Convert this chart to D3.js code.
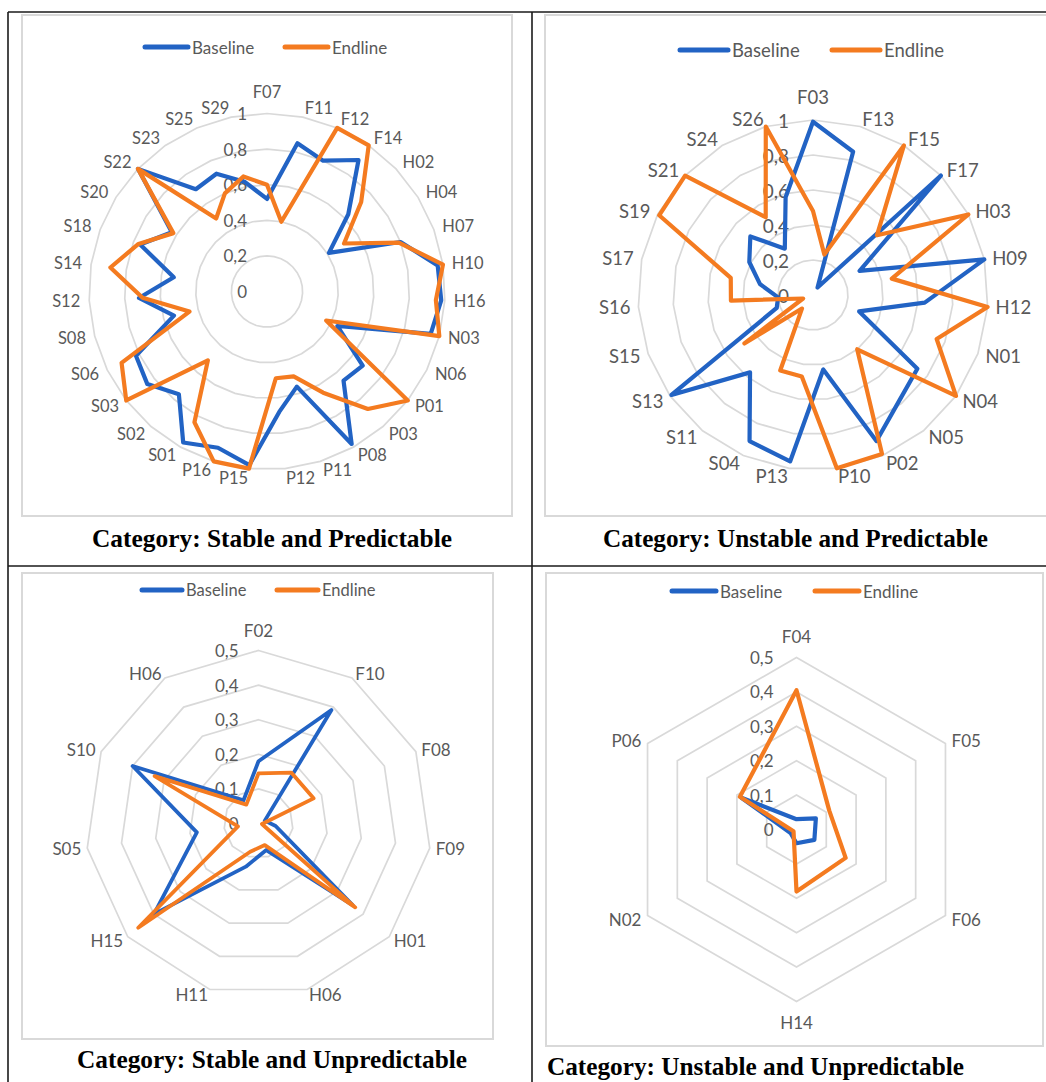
<!DOCTYPE html>
<html>
<head>
<meta charset="utf-8">
<script src="https://cdn.jsdelivr.net/npm/d3@7"></script>
<style>
  body { margin: 0; background: #ffffff; }
  svg { display: block; }
</style>
</head>
<body>
<svg id="chart" width="1046" height="1082"></svg>
<script>
// ---------------- DATA ----------------
const seriesNames = ["Baseline", "Endline"];

const tlCategories = ["F07","F11","F12","F14","H02","H04","H07","H10","H16","N03","N06","P01","P03","P08","P11","P12","P15","P16","S01","S02","S03","S06","S08","S12","S14","S18","S20","S22","S23","S25","S29"];
const tlBaseline = [0.52,0.85,0.80,0.90,0.63,0.41,0.80,0.97,0.98,0.95,0.44,0.68,0.66,0.98,0.56,0.68,0.98,0.92,0.97,0.76,0.85,0.82,0.54,0.72,0.53,0.76,0.63,1.00,0.70,0.72,0.63];
const tlEndline  = [0.60,0.40,1.00,1.00,0.73,0.51,0.79,1.00,0.95,1.00,0.37,1.00,0.87,0.65,0.50,0.49,1.00,1.00,0.84,0.51,1.00,0.91,0.45,0.70,0.89,0.77,0.62,1.00,0.50,0.60,0.66];
const tlTicks = [0, 0.2, 0.4, 0.6, 0.8, 1];

const trCategories = ["F03","F13","F15","F17","H03","H09","H12","N01","N04","N05","P02","P10","P13","S04","S11","S13","S15","S16","S17","S19","S21","S24","S26"];
const trBaseline = [0.99,0.85,0.05,1.00,0.30,1.00,0.64,0.28,0.73,0.78,0.91,0.43,0.96,0.91,0.57,0.99,0.22,0.20,0.31,0.41,0.49,0.31,0.58];
const trEndline  = [0.48,0.24,1.00,0.50,1.00,0.46,1.00,0.75,1.00,0.40,0.99,1.00,0.47,0.47,0.10,0.48,0.06,0.47,0.48,0.99,1.00,0.52,1.00];
const trTicks = [0, 0.2, 0.4, 0.6, 0.8, 1];

const blCategories = ["F02","F10","F08","F09","H01","H06","H11","H15","S05","S10","H06"];
const blBaseline = [0.18,0.39,0.02,0.05,0.36,0.08,0.13,0.40,0.18,0.40,0.08];
const blEndline  = [0.145,0.175,0.175,0.01,0.37,0.065,0.085,0.46,0.06,0.33,0.065];
const blTicks = [0, 0.1, 0.2, 0.3, 0.4, 0.5];

const brCategories = ["F04","F05","F06","H14","N02","P06"];
const brBaseline = [0.03,0.065,0.06,0.04,0.02,0.185];
const brEndline  = [0.405,0.11,0.165,0.18,0.01,0.19];
const brTicks = [0, 0.1, 0.2, 0.3, 0.4, 0.5];

const captionTexts = [
  "Category: Stable and Predictable",
  "Category: Unstable and Predictable",
  "Category: Stable and Unpredictable",
  "Category: Unstable and Unpredictable"
];

// ---------------- STYLE / LAYOUT ----------------
const COLORS = { Baseline: "#2263c4", Endline: "#f47b20" };
const TEXT_GRAY = "#595959";
const GRID = "#d9d9d9";
const SANS = "Lato, 'Open Sans', sans-serif";

const svg = d3.select("#chart");

// table frame
const frame = svg.append("g").attr("stroke", "#1a1a1a").attr("stroke-width", 1.6);
frame.append("line").attr("x1", 8).attr("x2", 1046).attr("y1", 12).attr("y2", 12);
frame.append("line").attr("x1", 8).attr("x2", 8).attr("y1", 12).attr("y2", 1082);
frame.append("line").attr("x1", 532).attr("x2", 532).attr("y1", 12).attr("y2", 1082);
frame.append("line").attr("x1", 8).attr("x2", 1046).attr("y1", 566).attr("y2", 566);

// chart boxes
const boxes = [
  { x: 22, y: 15, w: 490, h: 501 },
  { x: 545, y: 15, w: 510, h: 501 },
  { x: 22, y: 573, w: 471, h: 466 },
  { x: 546, y: 573, w: 497, h: 473 }
];
boxes.forEach(b => svg.append("rect")
  .attr("x", b.x).attr("y", b.y).attr("width", b.w).attr("height", b.h)
  .attr("fill", "#fff").attr("stroke", GRID).attr("stroke-width", 2));

function fmtTick(v) {
  return Number.isInteger(v) ? String(v) : v.toFixed(1).replace(".", ",");
}

function drawRadar(cfg, cats, base, end, ticks) {
  const n = cats.length;
  const g = svg.append("g").attr("transform", `translate(${cfg.cx},${cfg.cy})`);
  const r = d3.scaleLinear().domain([0, d3.max(ticks)]).range([0, cfg.R]);
  const ang = d3.scaleLinear().domain([0, n]).range([0, 2 * Math.PI]);
  const radial = d3.lineRadial()
    .angle((d, i) => ang(i))
    .radius(d => r(d))
    .curve(d3.curveLinearClosed);

  // grid polygons
  g.selectAll("path.grid").data(ticks.filter(t => t > 0)).join("path")
    .attr("class", "grid")
    .attr("d", t => radial(cats.map(() => t)))
    .attr("fill", "none").attr("stroke", GRID).attr("stroke-width", 1.7);

  // tick labels
  g.selectAll("text.tick").data(ticks).join("text")
    .attr("class", "tick")
    .attr("x", -cfg.tickGap).attr("y", d => -r(d))
    .attr("text-anchor", "end").attr("dominant-baseline", "central")
    .attr("font-family", SANS).attr("font-size", cfg.tickFs)
    .attr("fill", TEXT_GRAY)
    .text(fmtTick);

  // series
  const series = [{ name: seriesNames[0], vals: base }, { name: seriesNames[1], vals: end }];
  g.selectAll("path.series").data(series).join("path")
    .attr("class", "series")
    .attr("d", s => radial(s.vals))
    .attr("fill", "none")
    .attr("stroke", s => COLORS[s.name])
    .attr("stroke-width", cfg.lw)
    .attr("stroke-linejoin", "round");

  // category labels
  g.selectAll("text.cat").data(cats).join("text")
    .attr("class", "cat")
    .each(function (c, i) {
      const a = ang(i);
      const ux = Math.sin(a), uy = -Math.cos(a);
      const vx = ux * cfg.R, vy = uy * cfg.R;
      let x, y, anchor;
      if (Math.abs(ux) < 0.02) {
        anchor = "middle"; x = vx; y = vy + uy * cfg.poleGap;
      } else {
        anchor = ux > 0 ? "start" : "end";
        x = vx + ux * cfg.gapX; y = vy + uy * cfg.gapY;
      }
      d3.select(this).attr("x", x).attr("y", y)
        .attr("text-anchor", anchor).attr("dominant-baseline", "central");
    })
    .attr("font-family", SANS).attr("font-size", cfg.catFs)
    .attr("fill", TEXT_GRAY)
    .text(c => c);
}

function drawLegend(lg) {
  const g = svg.append("g");
  lg.items.forEach((it, k) => {
    g.append("line")
      .attr("x1", it.x1).attr("x2", it.x2).attr("y1", lg.y).attr("y2", lg.y)
      .attr("stroke", COLORS[seriesNames[k]]).attr("stroke-width", 5)
      .attr("stroke-linecap", "round");
    g.append("text")
      .attr("x", it.tx).attr("y", lg.y)
      .attr("dominant-baseline", "central")
      .attr("font-family", SANS).attr("font-size", lg.fs)
      .attr("fill", TEXT_GRAY)
      .text(seriesNames[k]);
  });
}

// ---------------- CHARTS ----------------
drawRadar({ cx: 267, cy: 291.5, R: 178, tickGap: 20, tickFs: 17, catFs: 16.5, lw: 4.2, gapX: 9, gapY: 9.5, poleGap: 22 },
  tlCategories, tlBaseline, tlEndline, tlTicks);
drawRadar({ cx: 813, cy: 295, R: 175, tickGap: 24, tickFs: 19, catFs: 18.5, lw: 4.2, gapX: 8, gapY: 8, poleGap: 23 },
  trCategories, trBaseline, trEndline, trTicks);
drawRadar({ cx: 258.5, cy: 823.5, R: 173, tickGap: 20, tickFs: 17, catFs: 17, lw: 3.8, gapX: 6, gapY: 5, poleGap: 20 },
  blCategories, blBaseline, blEndline, blTicks);
drawRadar({ cx: 796.5, cy: 829.5, R: 172, tickGap: 23, tickFs: 17, catFs: 17, lw: 4.2, gapX: 7, gapY: 7, poleGap: 21 },
  brCategories, brBaseline, brEndline, brTicks);

drawLegend({ y: 47, fs: 17, items: [{ x1: 145, x2: 188, tx: 192 }, { x1: 285, x2: 328, tx: 332 }] });
drawLegend({ y: 50, fs: 18.5, items: [{ x1: 680, x2: 728, tx: 732 }, { x1: 832, x2: 880, tx: 884 }] });
drawLegend({ y: 590, fs: 16.5, items: [{ x1: 142, x2: 182, tx: 186 }, { x1: 277, x2: 318, tx: 322 }] });
drawLegend({ y: 591, fs: 17, items: [{ x1: 672, x2: 716, tx: 720 }, { x1: 815, x2: 859, tx: 863 }] });

// ---------------- CAPTIONS ----------------
const capPos = [
  { x: 92, y: 547, w: 360 },
  { x: 603, y: 547, w: 385 },
  { x: 77, y: 1068, w: 390 },
  { x: 547, y: 1075, w: 417 }
];
svg.selectAll("text.caption").data(captionTexts).join("text")
  .attr("class", "caption")
  .attr("x", (d, i) => capPos[i].x).attr("y", (d, i) => capPos[i].y)
  .attr("textLength", (d, i) => capPos[i].w)
  .attr("lengthAdjust", "spacingAndGlyphs")
  .attr("font-family", "'Liberation Serif', 'Times New Roman', serif")
  .attr("font-weight", "bold").attr("font-size", 25)
  .attr("fill", "#000")
  .text(d => d);
</script>
</body>
</html>
